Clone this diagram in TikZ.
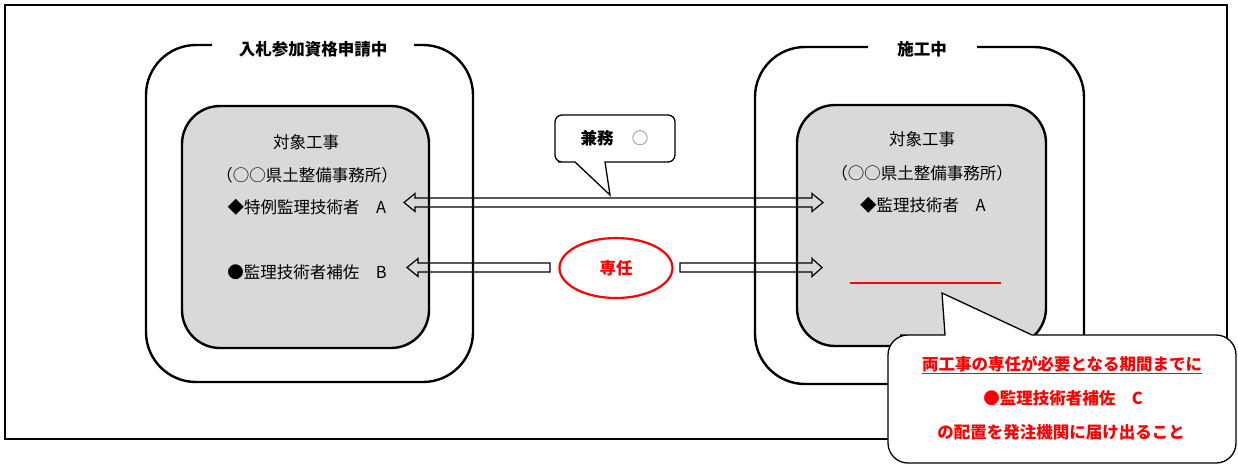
\documentclass[tikz,border=0pt]{standalone}
\usepackage{fontspec}
\setmainfont{Noto Sans CJK JP}
\usetikzlibrary{shapes.geometric}

\definecolor{boxgray}{HTML}{D9D9D9}

\tikzset{
  frame/.style={line width=2pt},
  stage/.style={line width=2.4pt, rounded corners=50pt},
  koji/.style={line width=2.4pt, fill=boxgray, rounded corners=38pt},
  txt/.style={font=\fontsize{16.5}{20}\selectfont, inner sep=0pt},
  ttl/.style={font=\fontsize{16.5}{20}\selectfont\bfseries, inner sep=0pt},
  redtxt/.style={ttl, text=red},
  hollow/.style={line width=1.2pt, line join=miter},
  balloon/.style={line width=1.3pt, fill=white},
}

\begin{document}
\begin{tikzpicture}[x=1pt,y=-1pt]
  \useasboundingbox (0,0) rectangle (1238,464);
  \draw[frame] (5,5) rectangle (1227,439); % outer frame

  % left stage, open at the top for its title
  \draw[stage] (414,45) -- (473,45) -- (473,382) -- (146,382) -- (146,45) -- (212,45);
  \node[ttl] (nyusatsu) at (313,49) {入札参加資格申請中};
  \draw[koji] (182,106) rectangle (429,348);
  \node[txt] (taishoL) at (306,142) {対象工事};
  \node[txt] (jimushoL) at (307,175) {（○○県土整備事務所）};
  \node[txt] (tokureiA) at (307,207) {◆特例監理技術者　A};
  \node[txt] (hosaB) at (307,272) {●監理技術者補佐　B};

  % right stage
  \draw[stage] (977,47) -- (1084,47) -- (1084,384) -- (755,384) -- (755,47) -- (868,47);
  \node[ttl] (seko) at (922,49) {施工中};
  \draw[koji] (797,105) rectangle (1046,346);
  \node[txt] (taishoR) at (922,139) {対象工事};
  \node[txt] (jimushoR) at (922,173) {（○○県土整備事務所）};
  \node[txt] (kanriA) at (923,205) {◆監理技術者　A};
  \coordinate (hosaC) at (850,283);
  \draw[red, line width=1.5pt] (hosaC) -- ++(151,0); % empty slot for C

  % arrow tips
  \coordinate (kL) at (404,202.5);
  \coordinate (kR) at (823,202.5);
  \coordinate (sL) at (407,267.5);
  \coordinate (sR) at (680,267.5);

  % hollow double arrow A <-> A
  \draw[hollow] (kL) -- ++(11,-9) -- ++(0,4.5) -- ++(397,0) -- ++(0,-4.5) -- (kR)
    -- ++(-11,9) -- ++(0,-4.5) -- ++(-397,0) -- ++(0,4.5) -- cycle;
  % hollow single arrows either side of the ellipse
  \draw[hollow] (sL) -- ++(11,-9) -- ++(0,4.5) -- ++(132,0) -- ++(0,9) -- ++(-132,0) -- ++(0,4.5) -- cycle;
  \draw[hollow] (sR) -- ++(0,-4.5) -- ++(132,0) -- ++(0,-4.5) -- ++(10,9) -- ++(-10,9) -- ++(0,-4.5) -- ++(-132,0) -- cycle;

  \node[ellipse, draw=red, line width=2.2pt, minimum width=113pt, minimum height=60pt, redtxt] (senin) at (616,268) {専任};

  % speech balloon over the upper arrow
  \draw[balloon] (575,162) -- (610,195) -- (605,162) -- (640,162) [rounded corners=7pt]
    -- (675,162) -- (675,115) -- (555,115) -- (555,162) -- (565,162) [sharp corners] -- cycle;
  \node[ttl] (kenmu) at (597,138) {兼務};
  \node[txt, text=black!60] (maru) at (640,138) {○};

  % speech balloon pointing at the empty slot
  \draw[balloon] (945,335) -- (942,293) -- (1032,335) -- (1100,335) [rounded corners=20pt]
    -- (1236,335) -- (1236,463) -- (888,463) -- (888,335) -- (920,335) [sharp corners] -- cycle;
  \node[redtxt] (kikan) at (1062,365) {\underline{両工事の専任が必要となる期間までに}};
  \node[redtxt] (hosaCtxt) at (1063,398) {●監理技術者補佐　C};
  \node[redtxt] (todoke) at (1061,432) {の配置を発注機関に届け出ること};
\end{tikzpicture}
\end{document}
